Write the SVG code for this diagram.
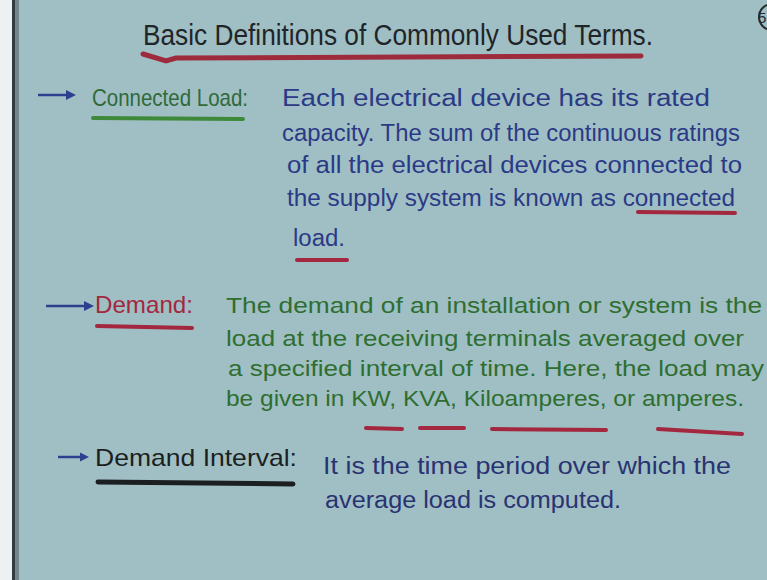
<svg xmlns="http://www.w3.org/2000/svg" width="767" height="580" viewBox="0 0 767 580">
<defs>
<style>
text{font-family:"Liberation Sans","DejaVu Sans",sans-serif;}
.title{font-size:30px;fill:#1f2528;}
.lbl{font-size:24px;}
.blue{font-size:23px;fill:#2b3a86;}
.green{font-size:22px;fill:#2f6e31;}
.navy{font-size:23px;fill:#2a3372;}
.ul{fill:none;stroke-linecap:round;}
.red{stroke:#a3283f;stroke-width:4;}
.arr{stroke-width:2.5;fill:none;}
</style>
</defs>
<rect x="0" y="0" width="767" height="580" fill="#a0bfc4"/>
<rect x="0" y="0" width="12" height="580" fill="#eef1f1"/>
<rect x="12" y="0" width="3" height="580" fill="#343b3e"/>
<rect x="15" y="0" width="4" height="580" fill="#72868c"/>

<g id="title">
<text class="title" x="143" y="45" textLength="510" lengthAdjust="spacingAndGlyphs">Basic Definitions of Commonly Used Terms.</text>
<path class="ul" d="M143,54 L166,61 L176,58 Q400,57 641,56" stroke="#9e2b3c" stroke-width="5"/>
<circle cx="772" cy="17" r="13" fill="none" stroke="#26292b" stroke-width="2"/>
<text x="758" y="23" font-size="15" fill="#26292b">5</text>
</g>

<g id="connected-load">
<path class="arr" d="M38,95 L68,95" stroke="#2f3f8f"/>
<polygon points="66,90 76,95 66,100" fill="#2f3f8f"/>
<text class="lbl" x="92" y="106" fill="#2f6a3a" textLength="156" lengthAdjust="spacingAndGlyphs">Connected Load:</text>
<path class="ul" d="M93,118 L243,119" stroke="#3f8a3a" stroke-width="4"/>
<text class="blue" x="282" y="106" textLength="428" lengthAdjust="spacingAndGlyphs">Each electrical device has its rated</text>
<text class="blue" x="282" y="141" textLength="458" lengthAdjust="spacingAndGlyphs">capacity. The sum of the continuous ratings</text>
<text class="blue" x="287" y="173" textLength="455" lengthAdjust="spacingAndGlyphs">of all the electrical devices connected to</text>
<text class="blue" x="287" y="206" textLength="448" lengthAdjust="spacingAndGlyphs">the supply system is known as connected</text>
<text class="blue" x="293" y="246" textLength="52" lengthAdjust="spacingAndGlyphs">load.</text>
<path class="ul red" d="M638,212 L735,213"/>
<path class="ul red" d="M297,260 L347,260"/>
</g>

<g id="demand">
<path class="arr" d="M46,306 L86,306" stroke="#2f3f8f"/>
<polygon points="84,301 94,306 84,311" fill="#2f3f8f"/>
<text class="lbl" x="95" y="313" fill="#a3283f" textLength="98" lengthAdjust="spacingAndGlyphs">Demand:</text>
<path class="ul red" d="M97,326 L192,328"/>
<text class="green" x="226" y="313" textLength="536" lengthAdjust="spacingAndGlyphs">The demand of an installation or system is the</text>
<text class="green" x="226" y="346" textLength="518" lengthAdjust="spacingAndGlyphs">load at the receiving terminals averaged over</text>
<text class="green" x="228" y="376" textLength="536" lengthAdjust="spacingAndGlyphs">a specified interval of time. Here, the load may</text>
<text class="green" x="226" y="406" textLength="518" lengthAdjust="spacingAndGlyphs">be given in KW, KVA, Kiloamperes, or amperes.</text>
<path class="ul red" d="M366,428 L402,429"/>
<path class="ul red" d="M420,428 L464,428"/>
<path class="ul red" d="M492,429 L606,430"/>
<path class="ul red" d="M658,429 L742,434"/>
</g>

<g id="demand-interval">
<path class="arr" d="M58,457 L82,457" stroke="#2f3f8f"/>
<polygon points="80,452.5 89,457 80,461.5" fill="#2f3f8f"/>
<text class="lbl" x="95" y="466" fill="#1c1f22" textLength="202" lengthAdjust="spacingAndGlyphs">Demand Interval:</text>
<path class="ul" d="M98,482 L293,484" stroke="#1c1f22" stroke-width="5"/>
<text class="navy" x="323" y="474" textLength="408" lengthAdjust="spacingAndGlyphs">It is the time period over which the</text>
<text class="navy" x="325" y="508" textLength="296" lengthAdjust="spacingAndGlyphs">average load is computed.</text>
</g>
</svg>
